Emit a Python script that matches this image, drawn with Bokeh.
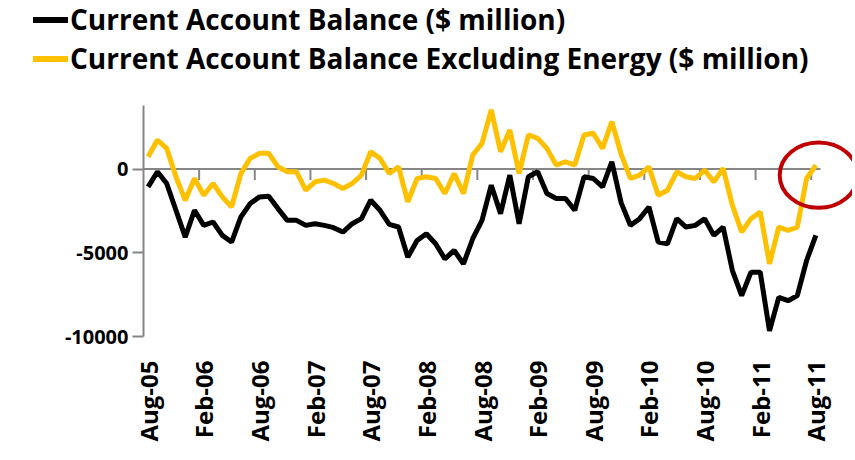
import math
from bokeh.plotting import figure
from bokeh.layouts import column
from bokeh.models import ColumnDataSource, FixedTicker, Range1d, Div
from bokeh.embed import file_html
from bokeh.resources import INLINE

# ---------------- data ----------------
months = ["Aug-05", "Sep-05", "Oct-05", "Nov-05", "Dec-05", "Jan-06",
          "Feb-06", "Mar-06", "Apr-06", "May-06", "Jun-06", "Jul-06",
          "Aug-06", "Sep-06", "Oct-06", "Nov-06", "Dec-06", "Jan-07",
          "Feb-07", "Mar-07", "Apr-07", "May-07", "Jun-07", "Jul-07",
          "Aug-07", "Sep-07", "Oct-07", "Nov-07", "Dec-07", "Jan-08",
          "Feb-08", "Mar-08", "Apr-08", "May-08", "Jun-08", "Jul-08",
          "Aug-08", "Sep-08", "Oct-08", "Nov-08", "Dec-08", "Jan-09",
          "Feb-09", "Mar-09", "Apr-09", "May-09", "Jun-09", "Jul-09",
          "Aug-09", "Sep-09", "Oct-09", "Nov-09", "Dec-09", "Jan-10",
          "Feb-10", "Mar-10", "Apr-10", "May-10", "Jun-10", "Jul-10",
          "Aug-10", "Sep-10", "Oct-10", "Nov-10", "Dec-10", "Jan-11",
          "Feb-11", "Mar-11", "Apr-11", "May-11", "Jun-11", "Jul-11",
          "Aug-11"]

current_account = [
    -1060, -160, -860, -2460, -4060, -2460, -3360, -3160, -3960, -4360,
    -2860, -2060, -1660, -1620, -2360, -3060, -3060, -3360, -3260, -3360,
    -3500, -3760, -3260, -2960, -1860, -2460, -3300, -3460, -5260, -4260,
    -3860, -4460, -5360, -4860, -5660, -4160, -3060, -960, -2660, -360,
    -3260, -460, -160, -1460, -1760, -1760, -2460, -460, -560, -1060,
    440, -2000, -3360, -2960, -2260, -4360, -4460, -2960, -3460, -3360,
    -2960, -3960, -3460, -6060, -7560, -6160, -6160, -9660, -7660, -7860,
    -7560, -5460, -3960]

excl_energy = [
    740, 1740, 1240, -460, -1860, -560, -1560, -860, -1660, -2260,
    -260, 640, 940, 940, 140, -160, -160, -1260, -760, -660,
    -860, -1160, -860, -360, 1040, 640, -260, 140, -1960, -560,
    -460, -560, -1460, -260, -1460, 840, 1540, 3540, 1040, 2340,
    -260, 2040, 1840, 1240, 240, 440, 240, 2040, 2140, 1240,
    2840, 900, -560, -360, 140, -1560, -1260, -160, -460, -560,
    -60, -760, 40, -2160, -3760, -2960, -2560, -5660, -3460, -3660,
    -3460, -560, 240]

tick_labels = ["Aug-05", "Feb-06", "Aug-06", "Feb-07", "Aug-07", "Feb-08",
               "Aug-08", "Feb-09", "Aug-09", "Feb-10", "Aug-10", "Feb-11",
               "Aug-11"]
y_ticks = [-10000, -5000, 0]
y_tick_labels = ["-10000", "-5000", "0"]

series_names = ["Current Account Balance ($ million)",
                "Current Account Balance Excluding Energy ($ million)"]
series_colors = ["#000000", "#FFC000"]

# ---------------- layout constants ----------------
FONT = "Open Sans"
TOTAL_W = 852
LEG_H = 100
px_per_cat = 9.274
left_border = 143
frame_w = TOTAL_W - left_border
axis_gray = "#868686"

# ---------------- legend (HTML) ----------------
rows = "".join(
    '<div style="display:flex;align-items:center;height:39px;">'
    f'<span style="display:inline-block;width:35px;height:6px;background:{c};'
    'margin-right:2px;"></span>'
    f'<span>{nm}</span></div>'
    for nm, c in zip(series_names, series_colors))
legend_div = Div(
    text=f'<div style="font-family:\'{FONT}\';font-weight:bold;font-size:28px;'
         f'color:#000;padding-left:33px;line-height:39px;white-space:nowrap;">{rows}</div>',
    width=TOTAL_W, height=LEG_H, margin=0)

# ---------------- main chart ----------------
n = len(months)
src = ColumnDataSource(dict(x=list(range(n)), ca=current_account, ex=excl_energy))

p = figure(width=TOTAL_W, height=356, output_backend="svg", toolbar_location=None,
           x_range=Range1d(-0.5, -0.5 + frame_w / px_per_cat),
           y_range=Range1d(-10000, 3800),
           min_border_left=left_border, min_border_right=0,
           min_border_top=5, min_border_bottom=10,
           frame_width=frame_w, frame_height=231, margin=0)
p.outline_line_color = None
p.xgrid.visible = False
p.ygrid.visible = False

# zero line (category axis) with tick marks between categories
p.segment(x0=[-0.5], x1=[n - 0.5], y0=[0], y1=[0],
          line_color=axis_gray, line_width=2)
tick_pos = [i + 0.5 for i in range(5, n, 6)]
p.segment(x0=tick_pos, x1=tick_pos, y0=[0] * len(tick_pos),
          y1=[-650] * len(tick_pos), line_color=axis_gray, line_width=2)

p.line("x", "ca", source=src, line_color=series_colors[0], line_width=5)
p.line("x", "ex", source=src, line_color=series_colors[1], line_width=5)

# highlight ellipse around the latest value
p.ellipse(x=[n - 1 + 0.3], y=[-360], width=8.4, height=3900,
          fill_color=None, line_color="#C00000", line_width=4)

# y axis
ya = p.yaxis[0]
ya.ticker = FixedTicker(ticks=y_ticks)
ya.major_label_overrides = {t: lab for t, lab in zip(y_ticks, y_tick_labels)}
ya.minor_tick_line_color = None
ya.axis_line_color = axis_gray
ya.axis_line_width = 2
ya.major_tick_line_color = axis_gray
ya.major_tick_line_width = 2
ya.major_tick_out = 11
ya.major_tick_in = 0
ya.major_label_standoff = 4
ya.major_label_text_font = FONT
ya.major_label_text_font_size = "20px"
ya.major_label_text_font_style = "bold"
ya.major_label_text_color = "black"

# x axis (labels only)
xa = p.xaxis[0]
tick_idx = [months.index(t) for t in tick_labels]
xa.ticker = FixedTicker(ticks=tick_idx)
xa.major_label_overrides = {i: lab for i, lab in zip(tick_idx, tick_labels)}
xa.axis_line_color = None
xa.major_tick_line_color = None
xa.minor_tick_line_color = None
xa.major_label_orientation = math.pi / 2
xa.major_label_standoff = 18
xa.major_label_text_font = FONT
xa.major_label_text_font_size = "24px"
xa.major_label_text_font_style = "bold"
xa.major_label_text_color = "black"

layout = column(legend_div, p, spacing=0)
open("out.html", "w").write(file_html(layout, INLINE))
